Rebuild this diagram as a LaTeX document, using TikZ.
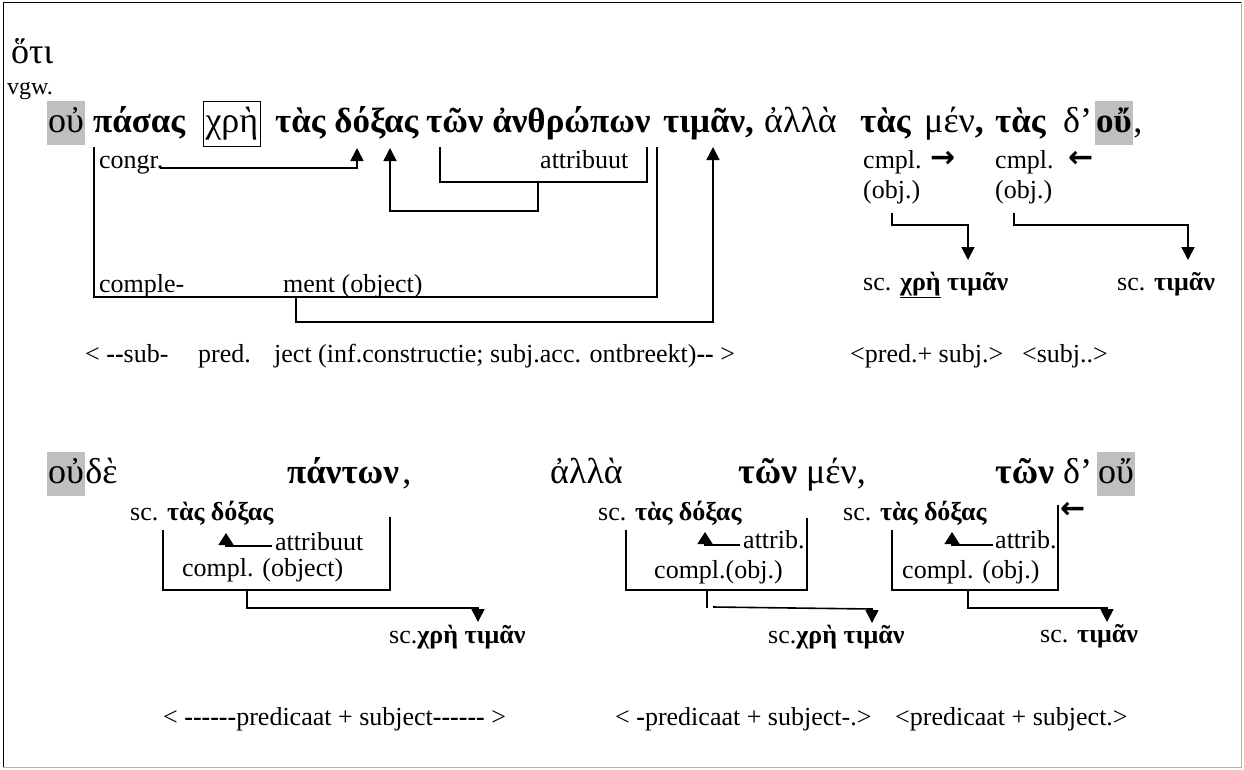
\documentclass[tikz,border=0pt]{standalone}
\usepackage{fontspec}
\setmainfont{Liberation Serif}[Ligatures=TeXOff]
\newfontfamily\arrowFont{DejaVu Sans}
\usetikzlibrary{arrows.meta}

\providecommand*{\xMin}{}
\providecommand*{\xMax}{}
\providecommand*{\yMin}{}
\providecommand*{\yMax}{}
\renewcommand*{\xMin}{0}
\renewcommand*{\xMax}{1244}
\renewcommand*{\yMin}{0}
\renewcommand*{\yMax}{769}

\tikzset{
  greek/.style={anchor=base west,inner sep=0pt,font=\fontsize{36}{42}\selectfont},
  greekBold/.style={greek,font=\fontsize{35}{42}\selectfont\bfseries},
  note/.style={anchor=base west,inner sep=0pt,font=\fontsize{26}{30}\selectfont},
  marked/.style={fill=gray!50,inner xsep=1pt,text height=31pt,text depth=13pt},
  pointer/.style={anchor=west,inner sep=0pt,font=\fontsize{30}{34}\selectfont\arrowFont\bfseries},
  link/.style={line width=1.6pt},
  arrowLink/.style={link,-{Triangle[length=13pt,width=13pt]}}
}

\begin{document}
\begin{tikzpicture}[x=1pt,y=-1pt]
  \useasboundingbox (\xMin,\yMin) rectangle (\xMax,\yMax);
  \draw [thin] (3,\yMax - 2) -- (3,2) -- (\xMax - 3,2);
  \draw [thin,gray!60] (\xMax - 3,2) -- (\xMax - 3,\yMax - 2) -- (3,\yMax - 2);

  % first sentence
  \node [greek] (hoti) at (11,63) {ὅτι};
  \node [note,font=\fontsize{24}{28}\selectfont] (vgw) at (7,94) {vgw.};
  \node [greek,marked] (ouA) at (47,132) {οὐ};
  \node [greekBold] (pasas) at (93,132) {πάσας};
  \node [greek,draw,line width=1pt,inner xsep=2pt,text height=31pt,text depth=14pt] (chre) at (203,132) {χρὴ};
  \node [greekBold] (tasA) at (275,132) {τὰς δόξας};
  \node [greekBold] (anthropon) at (426,132) {τῶν ἀνθρώπων};
  \node [greekBold] (timan) at (663,132) {τιμᾶν,};
  \node [greek] (allaA) at (764,132) {ἀλλὰ};
  \node [greekBold] (tasB) at (860,132) {τὰς};
  \node [greek] (menA) at (924,132) {μέν\textbf{,}};
  \node [greekBold] (tasC) at (995,132) {τὰς};
  \node [greek] (deA) at (1063,132) {δ’};
  \node [greekBold,marked] (ouB) at (1095,132) {οὔ};
  \node [greek] (commaA) at (ouB.base east) {,};

  \node [note] (congr) at (99,168) {congr.};
  \node [note] (attrA) at (540,168) {attribuut};
  \node [note] (comple) at (99,292) {comple-};
  \node [note] (ment) at (283,292) {ment (object)};
  \node [note] (cmplA) at (863,168) {cmpl.};
  \node [pointer] (rightA) at (930,159) {→};
  \node [note] (objA) at (863,198) {(obj.)};
  \node [note] (cmplB) at (995,168) {cmpl.};
  \node [pointer] (leftA) at (1068,159) {←};
  \node [note] (objB) at (995,198) {(obj.)};
  \node [note] (scChre) at (863,290) {sc. \underline{\textbf{χρὴ}} \textbf{τιμᾶν}};
  \node [note] (scTimanA) at (1117,290) {sc. \textbf{τιμᾶν}};

  \node [note] (subA) at (85,362) {< \textbf{--}sub-};
  \node [note] (predA) at (198,362) {pred.};
  \node [note] (ject) at (274,362) {ject (inf.constructie; subj.acc. ontbreekt)\textbf{--} >};
  \node [note] (predSubj) at (850,362) {<pred.+ subj.>};
  \node [note] (subjB) at (1022,362) {<subj..>};

  \coordinate (objL) at (94,147);
  \coordinate (objR) at (657,147);
  \draw [link] (objL) -- ++(0,150) -| (objR);
  \coordinate (objStem) at (296,297);
  \coordinate (timanTip) at (713,147);
  \draw [arrowLink] (objStem) -- ++(0,25) -| (timanTip);
  \coordinate (congrEnd) at (160,168);
  \coordinate (doxaTip) at (357,148);
  \draw [arrowLink] (congrEnd) -| (doxaTip);
  \coordinate (attrL) at (440,147);
  \coordinate (attrR) at (647,147);
  \draw [link] (attrL) -- ++(0,35) -| (attrR);
  \coordinate (attrStem) at (538,182);
  \coordinate (xiTip) at (390,148);
  \draw [arrowLink] (attrStem) -- ++(0,29) -| (xiTip);
  \coordinate (objAEnd) at (892,213);
  \coordinate (chreTip) at (968,260);
  \draw [arrowLink] (objAEnd) -- ++(0,12) -| (chreTip);
  \coordinate (objBEnd) at (1014,213);
  \coordinate (timanTipB) at (1188,260);
  \draw [arrowLink] (objBEnd) -- ++(0,12) -| (timanTipB);

  % second sentence
  \node [greek,marked] (ouC) at (47,483) {οὐ};
  \node [greek] (de) at (ouC.base east) {δὲ};
  \node [greekBold] (panton) at (287,483) {πάντων};
  \node [greek] (commaB) at ([xshift=3pt]panton.base east) {,};
  \node [greek] (allaB) at (550,483) {ἀλλὰ};
  \node [greek] (tonA) at (738,483) {\textbf{τῶν} μέν,};
  \node [greek] (tonB) at (995,483) {\textbf{τῶν} δ’};
  \node [greek,marked] (ouD) at (1097,483) {οὔ};

  \node [note] (scDoxaA) at (130,520) {sc. \textbf{τὰς δόξας}};
  \node [note] (attrB) at (275,550) {attribuut};
  \node [note] (complA) at (182,576) {compl. (object)};
  \node [note] (scChreA) at (389,643) {sc.\textbf{χρὴ τιμᾶν}};
  \node [note] (scDoxaB) at (598,520) {sc. \textbf{τὰς δόξας}};
  \node [note] (attribB) at (743,548) {attrib.};
  \node [note] (complB) at (654,578) {compl.(obj.)};
  \node [note] (scChreB) at (768,643) {sc.\textbf{χρὴ τιμᾶν}};
  \node [note] (scDoxaC) at (843,520) {sc. \textbf{τὰς δόξας}};
  \node [pointer] (leftB) at (1060,510) {←};
  \node [note] (attribC) at (995,548) {attrib.};
  \node [note] (complC) at (902,578) {compl. (obj.)};
  \node [note] (scTimanB) at (1040,642) {sc. \textbf{τιμᾶν}};

  \node [note] (predB) at (163,725) {< \textbf{------}predicaat + subject\textbf{------} >};
  \node [note] (predC) at (615,725) {< \textbf{-}predicaat + subject-.>};
  \node [note] (predD) at (895,725) {<predicaat + subject.>};

  \coordinate (complAL) at (163,530);
  \coordinate (complAR) at (390,517);
  \draw [link] (complAL) -- (163,590) -| (complAR);
  \coordinate (attrBEnd) at (272,546);
  \coordinate (attrBTip) at (226,533);
  \draw [link,-{Triangle[length=12pt,width=15pt]}] (attrBEnd) -| (attrBTip);
  \coordinate (complAStem) at (247,591);
  \coordinate (scChreATip) at (478,622);
  \draw [arrowLink] (complAStem) -- ++(0,17) -| (scChreATip);

  \coordinate (complBL) at (626,530);
  \coordinate (complBR) at (807,518);
  \draw [link] (complBL) -- (626,590) -| (complBR);
  \coordinate (attribBEnd) at (740,545);
  \coordinate (attribBTip) at (705,532);
  \draw [link,-{Triangle[length=12pt,width=15pt]}] (attribBEnd) -| (attribBTip);
  \coordinate (complBStem) at (707,591);
  \draw [link] (complBStem) -- ++(0,17);
  \coordinate (complBLine) at (713,607);
  \coordinate (scChreBTip) at (872,623);
  \draw [arrowLink] (complBLine) -- (872,609) -- (scChreBTip);

  \coordinate (complCL) at (892,530);
  \coordinate (complCR) at (1058,505);
  \draw [link] (complCL) -- (892,590) -| (complCR);
  \coordinate (attribCEnd) at (993,545);
  \coordinate (attribCTip) at (952,532);
  \draw [link,-{Triangle[length=12pt,width=15pt]}] (attribCEnd) -| (attribCTip);
  \coordinate (complCStem) at (968,591);
  \coordinate (scTimanBTip) at (1107,622);
  \draw [arrowLink] (complCStem) -- ++(0,17) -| (scTimanBTip);
\end{tikzpicture}
\end{document}
